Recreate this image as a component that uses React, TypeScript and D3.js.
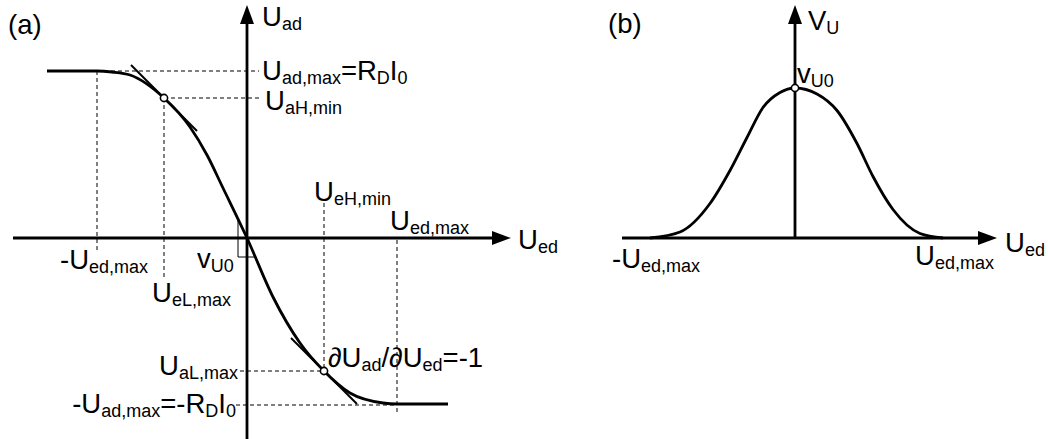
import React from "react";
import * as d3 from "d3";

// (a) transfer characteristic U_ad(U_ed), read in volt-like units
const transferUe = [-2.0, -1.5, -1.35, -1.17, -0.83, -0.57, -0.4, -0.24, 0, 0.26, 0.53, 0.77, 1.03, 1.36, 1.5, 2.01];
const transferUa = [1.67, 1.67, 1.66, 1.63, 1.4, 1.11, 0.83, 0.5, 0, -0.59, -1.05, -1.33, -1.55, -1.65, -1.66, -1.66];

// operating points where dU_ad/dU_ed = -1
const tangentUe = [-0.83, 0.77];
const tangentUa = [1.4, -1.33];

// (b) small-signal gain v_U(U_ed), normalised to v_U0
const gainUe = [-1.45, -1.15, -0.85, -0.65, -0.48, -0.32, -0.15, 0, 0.22, 0.42, 0.62, 0.78, 0.98, 1.25, 1.48];
const gainV = [0, 0.04, 0.23, 0.45, 0.67, 0.87, 0.97, 1.0, 0.96, 0.85, 0.63, 0.41, 0.19, 0.03, 0];

const UED_MAX = 1.5;
const UAD_MAX = 1.67;

const FONT = "'Liberation Sans', Arial, Helvetica, sans-serif";
const MAIN = 27.5;
const SUB = 18;
const SHIFT = 4;

type Part = [string, boolean];

function Label({ x, y, parts, anchor = "start" }: { x: number; y: number; parts: Part[]; anchor?: string }) {
  let inSub = false;
  return (
    <text x={x} y={y} fontFamily={FONT} fontSize={MAIN} textAnchor={anchor} fill="#000">
      {parts.map(([t, sub], i) => {
        let dy = 0;
        if (sub && !inSub) dy = SHIFT;
        if (!sub && inSub) dy = -SHIFT;
        inSub = sub;
        return (
          <tspan key={i} dy={dy} fontSize={sub ? SUB : MAIN}>
            {t}
          </tspan>
        );
      })}
    </text>
  );
}

function Arrow({ x, y, dir }: { x: number; y: number; dir: "up" | "right" }) {
  const L = 19;
  const W = 7;
  const pts =
    dir === "up"
      ? [[x, y], [x - W, y + L], [x + W, y + L]]
      : [[x, y], [x - L, y - W], [x - L, y + W]];
  return <polygon points={pts.map((p) => p.join(",")).join(" ")} fill="#000" />;
}

export default function App() {
  // both panels share 100 px per unit on U_ed; (a) uses the same on U_ad
  const xA = d3.scaleLinear().domain([0, 1]).range([247, 347]);
  const yA = d3.scaleLinear().domain([0, 1]).range([238, 138]);
  const xB = d3.scaleLinear().domain([0, 1]).range([795, 895]);
  const yB = d3.scaleLinear().domain([0, 1]).range([238, 88]);

  const lineA = d3
    .line<number>()
    .x((_, i) => xA(transferUe[i]))
    .y((d) => yA(d))
    .curve(d3.curveMonotoneX);
  const lineB = d3
    .line<number>()
    .x((_, i) => xB(gainUe[i]))
    .y((d) => yB(d))
    .curve(d3.curveMonotoneX);

  const dash = { stroke: "#000", strokeWidth: 1, strokeDasharray: "4,3", fill: "none" };
  const thick = { stroke: "#000", strokeWidth: 2.8, fill: "none" };

  // slope triangle at the origin
  const triX0 = -0.09;
  const triX1 = 0.09;
  const triTop = 0.19;
  const triBot = -0.19;

  const halfSpan = 0.33;

  return (
    <svg
      width={1048}
      height={439}
      style={{ position: "absolute", left: 0, top: 0, background: "#fff" }}
    >
      {/* ---------- panel (a) ---------- */}
      {/* guide lines */}
      <line x1={xA(-UED_MAX)} y1={yA(UAD_MAX)} x2={xA(0.12)} y2={yA(UAD_MAX)} {...dash} />
      <line x1={xA(tangentUe[0])} y1={yA(tangentUa[0])} x2={xA(0.15)} y2={yA(tangentUa[0])} {...dash} />
      <line x1={xA(-UED_MAX)} y1={yA(UAD_MAX)} x2={xA(-UED_MAX)} y2={yA(-0.12)} {...dash} />
      <line x1={xA(tangentUe[0])} y1={yA(tangentUa[0])} x2={xA(tangentUe[0])} y2={yA(-0.4)} {...dash} />
      <line x1={xA(tangentUe[1])} y1={yA(0.35)} x2={xA(tangentUe[1])} y2={yA(tangentUa[1])} {...dash} />
      <line x1={xA(UED_MAX)} y1={yA(-0.02)} x2={xA(UED_MAX)} y2={yA(-1.75)} {...dash} />
      <line x1={xA(-0.07)} y1={yA(tangentUa[1])} x2={xA(tangentUe[1])} y2={yA(tangentUa[1])} {...dash} />
      <line x1={xA(-0.11)} y1={yA(-UAD_MAX)} x2={xA(UED_MAX)} y2={yA(-UAD_MAX)} {...dash} />

      {/* slope triangle */}
      <polyline
        points={`${xA(triX0)},${yA(triTop)} ${xA(triX0)},${yA(triBot)} ${xA(triX1)},${yA(triBot)}`}
        stroke="#000"
        strokeWidth={1}
        fill="none"
      />

      {/* axes */}
      <line x1={13} y1={yA(0)} x2={505} y2={yA(0)} {...thick} />
      <Arrow x={511} y={yA(0)} dir="right" />
      <line x1={xA(0)} y1={439} x2={xA(0)} y2={12} {...thick} />
      <Arrow x={xA(0)} y={5} dir="up" />

      {/* tangents */}
      {tangentUe.map((u, i) => (
        <line
          key={i}
          x1={xA(u - halfSpan)}
          y1={yA(tangentUa[i] + halfSpan)}
          x2={xA(u + halfSpan)}
          y2={yA(tangentUa[i] - halfSpan)}
          stroke="#000"
          strokeWidth={2}
        />
      ))}

      {/* characteristic */}
      <path d={lineA(transferUa) || ""} {...thick} />

      {tangentUe.map((u, i) => (
        <circle key={i} cx={xA(u)} cy={yA(tangentUa[i])} r={3.6} fill="#fff" stroke="#000" strokeWidth={1.6} />
      ))}

      {/* labels (a) */}
      <text x={8} y={34} fontFamily={FONT} fontSize={MAIN}>(a)</text>
      <Label x={262} y={26} parts={[["U", false], ["ad", true]]} />
      <Label x={262} y={80} parts={[["U", false], ["ad,max", true], ["=R", false], ["D", true], ["I", false], ["0", true]]} />
      <Label x={265} y={110} parts={[["U", false], ["aH,min", true]]} />
      <Label x={60} y={269} parts={[["-U", false], ["ed,max", true]]} />
      <Label x={197} y={268} parts={[["v", false], ["U0", true]]} />
      <Label x={152} y={302} parts={[["U", false], ["eL,max", true]]} />
      <Label x={314} y={201} parts={[["U", false], ["eH,min", true]]} />
      <Label x={390} y={230} parts={[["U", false], ["ed,max", true]]} />
      <Label x={518} y={249} parts={[["U", false], ["ed", true]]} />
      <Label x={238} y={375} anchor="end" parts={[["U", false], ["aL,max", true]]} />
      <Label x={236} y={413} anchor="end" parts={[["-U", false], ["ad,max", true], ["=-R", false], ["D", true], ["I", false], ["0", true]]} />
      <Label x={328} y={367} parts={[["∂U", false], ["ad", true], ["/∂U", false], ["ed", true], ["=-1", false]]} />

      {/* ---------- panel (b) ---------- */}
      <line x1={622} y1={yB(0)} x2={979} y2={yB(0)} {...thick} />
      <Arrow x={997} y={yB(0)} dir="right" />
      <line x1={xB(0)} y1={yB(0)} x2={xB(0)} y2={12} {...thick} />
      <Arrow x={xB(0)} y={5} dir="up" />

      <path d={lineB(gainV) || ""} {...thick} />
      <circle cx={xB(0)} cy={yB(1)} r={3.6} fill="#fff" stroke="#000" strokeWidth={1.6} />

      <text x={608} y={33} fontFamily={FONT} fontSize={MAIN}>(b)</text>
      <Label x={808} y={30} parts={[["V", false], ["U", true]]} />
      <Label x={797} y={83} parts={[["v", false], ["U0", true]]} />
      <Label x={612} y={268} parts={[["-U", false], ["ed,max", true]]} />
      <Label x={915} y={265} parts={[["U", false], ["ed,max", true]]} />
      <Label x={1005} y={252} parts={[["U", false], ["ed", true]]} />
    </svg>
  );
}
